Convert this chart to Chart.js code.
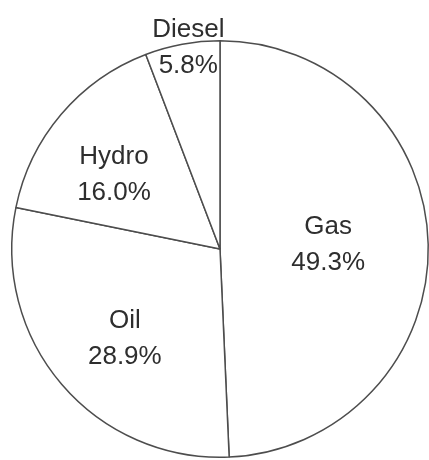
<!DOCTYPE html>
<html>
<head>
<meta charset="utf-8">
<script src="https://cdn.jsdelivr.net/npm/chart.js@4.4.0/dist/chart.umd.min.js"></script>
<style>
  html, body { margin: 0; padding: 0; background: #fff; overflow: hidden; }
  #wrap { position: relative; width: 429px; height: 460px; overflow: hidden; }
  #pie { position: absolute; left: 0; top: 0; }
</style>
</head>
<body>
<div id="wrap"><canvas id="pie" width="440" height="472"></canvas></div>
<script>
// generation mix, share of total (%)
const fuels = ['Gas', 'Oil', 'Hydro', 'Diesel'];
const shares = [49.3, 28.9, 16.0, 5.8];

// label placement per slice: fraction of radius, and a small turn (deg) off the slice middle
const labelReach = [0.52, 0.63, 0.62, 0.98];
const labelTurn = [-1, -3, -5.5, 1.5];

const sliceLabels = {
  id: 'sliceLabels',
  afterDatasetsDraw(chart) {
    const ctx = chart.ctx;
    const meta = chart.getDatasetMeta(0);
    ctx.save();
    ctx.font = '26px "Liberation Sans", Arial, sans-serif';
    ctx.fillStyle = '#2e2e2e';
    ctx.textAlign = 'center';
    ctx.textBaseline = 'middle';
    meta.data.forEach((arc, i) => {
      const p = arc.getProps(['x', 'y', 'startAngle', 'endAngle', 'outerRadius'], true);
      const mid = (p.startAngle + p.endAngle) / 2 + labelTurn[i] * Math.PI / 180;
      const d = p.outerRadius * labelReach[i];
      const cx = p.x + Math.cos(mid) * d;
      const cy = p.y + Math.sin(mid) * d;
      ctx.fillText(fuels[i], cx, cy - 18);
      ctx.fillText(`${shares[i].toFixed(1)}%`, cx, cy + 18);
    });
    ctx.restore();
  }
};

new Chart(document.getElementById('pie'), {
  type: 'pie',
  data: {
    labels: fuels,
    datasets: [{
      data: shares,
      backgroundColor: '#ffffff',
      borderColor: '#4d4d4d',
      borderWidth: 1.5,
    }],
  },
  options: {
    responsive: false,
    animation: false,
    layout: { padding: { left: 11, top: 40, right: 11, bottom: 14 } },
    plugins: {
      legend: { display: false },
      tooltip: { enabled: false },
    },
  },
  plugins: [sliceLabels],
});
</script>
</body>
</html>
